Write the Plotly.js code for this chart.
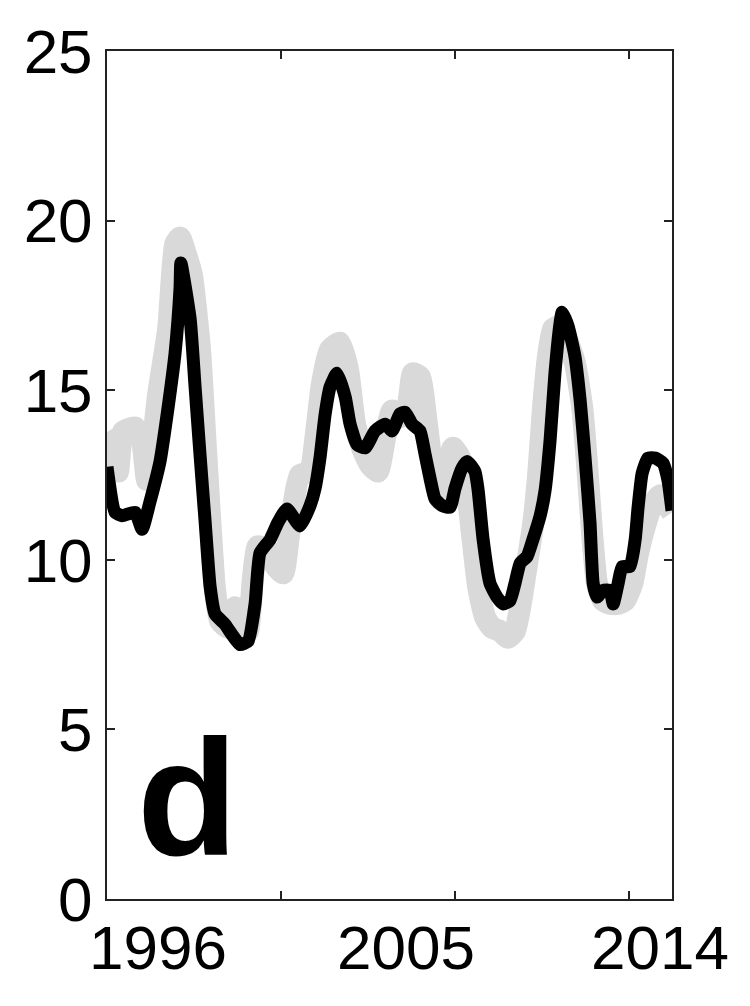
<!DOCTYPE html>
<html>
<head>
<meta charset="utf-8">
<script src="https://cdn.plot.ly/plotly-3.0.1.min.js"></script>
<style>
html,body{margin:0;padding:0;background:#fff;}
#chart{width:750px;height:1006px;}
</style>
</head>
<body>
<div id="chart"></div>
<script>
// Black series (decimal year, value)
const blackYears = [1995.00,1995.28,1995.52,1995.97,1996.21,1996.48,1996.83,1997.11,1997.35,1997.52,1997.55,1997.87,1998.04,1998.21,1998.38,1998.56,1998.73,1999.07,1999.31,1999.59,1999.87,2000.11,2000.28,2000.63,2000.90,2001.21,2001.66,2002.01,2002.18,2002.35,2002.53,2002.70,2002.94,2003.22,2003.39,2003.63,2003.91,2004.25,2004.60,2004.84,2005.11,2005.29,2005.53,2005.80,2005.98,2006.15,2006.32,2006.56,2006.84,2007.01,2007.25,2007.43,2007.70,2007.81,2007.98,2008.22,2008.46,2008.67,2008.91,2009.08,2009.26,2009.50,2009.70,2009.95,2010.12,2010.29,2010.46,2010.64,2010.71,2010.91,2011.15,2011.33,2011.50,2011.67,2011.78,2011.91,2012.12,2012.36,2012.47,2012.64,2012.78,2013.05,2013.23,2013.33,2013.47,2013.67,2013.92,2014.19,2014.36,2014.50];
const blackValues = [12.74,11.4,11.3,11.4,10.9,11.7,12.9,14.5,16.1,18.0,18.75,17.1,15.1,13.1,11.2,9.2,8.4,8.1,7.8,7.5,7.6,8.7,10.2,10.6,11.1,11.5,11.0,11.6,12.1,13.0,14.3,15.1,15.5,14.8,14.0,13.4,13.3,13.8,14.0,13.8,14.3,14.35,14.0,13.8,13.1,12.4,11.8,11.6,11.55,12.1,12.7,12.9,12.6,12.05,10.6,9.3,8.9,8.7,8.8,9.3,9.9,10.1,10.6,11.3,12.05,13.5,15.5,17.0,17.3,16.9,16.0,14.7,13.0,11.1,9.3,8.9,9.1,9.1,8.7,9.3,9.8,9.8,10.6,11.55,12.55,13.0,13.0,12.85,12.35,11.45];

// Grey series (decimal year, value)
const greyYears = [1995.00,1995.17,1995.38,1995.55,1995.97,1996.21,1996.38,1996.55,1996.76,1997.11,1997.35,1997.52,1997.69,1997.93,1998.21,1998.38,1998.56,1998.73,1998.90,1999.18,1999.42,1999.66,1999.87,2000.04,2000.21,2000.56,2000.83,2001.08,2001.32,2001.66,2002.01,2002.18,2002.42,2002.70,2003.04,2003.32,2003.56,2003.80,2004.08,2004.35,2004.60,2004.84,2005.11,2005.39,2005.56,2005.80,2006.04,2006.25,2006.49,2006.73,2006.94,2007.19,2007.43,2007.63,2007.81,2008.05,2008.29,2008.57,2008.84,2009.08,2009.26,2009.50,2009.70,2009.88,2010.05,2010.22,2010.39,2010.64,2010.87,2011.15,2011.40,2011.57,2011.74,2011.91,2012.12,2012.36,2012.64,2012.88,2013.13,2013.33,2013.57,2013.81,2014.09,2014.33,2014.50];
const greyValues = [13.77,13.5,12.6,13.77,13.9,13.5,12.35,13.2,14.85,16.8,19.3,19.5,19.1,18.4,16.2,13.8,11.2,9.1,8.2,8.0,8.6,8.4,7.9,9.5,10.4,10.3,9.8,9.6,11.0,12.5,12.6,13.5,15.2,16.2,16.4,15.6,14.0,13.3,12.8,12.6,13.6,14.4,14.2,14.6,15.5,15.4,14.0,12.6,11.8,12.6,13.3,13.0,12.0,10.5,9.2,8.3,8.0,7.9,7.7,7.9,8.6,9.9,11.0,12.5,14.5,16.0,16.8,16.9,16.5,15.8,14.5,12.8,10.8,9.3,8.8,8.7,8.7,8.8,9.3,10.2,11.0,11.6,11.9,11.6,11.4];

const yTicks = [0,5,10,15,20,25];
const xTickYears = [2001,2007,2013];
const xLabelText = ['1996','2005','2014'];
const xLabelYears = [1996.76,2005.32,2014.09];
const panelLabel = 'd';

const traces = [
  {x: greyYears, y: greyValues, type:'scatter', mode:'lines',
   line:{color:'#d9d9d9', width:22, shape:'spline', smoothing:0.5}, hoverinfo:'skip', showlegend:false},
  {x: blackYears, y: blackValues, type:'scatter', mode:'lines',
   line:{color:'#000000', width:13, shape:'spline', smoothing:0.5}, hoverinfo:'skip', showlegend:false}
];

const font = {family:'"Liberation Sans", Arial, Helvetica, sans-serif', size:62, color:'#000'};

const annotations = xLabelText.map((t,i)=>({
  text:t, xref:'x', x:xLabelYears[i], yref:'paper', y:0, yanchor:'top', xanchor:'center',
  yshift:-12, showarrow:false, font:font
}));
annotations.push({
  text:'<b>'+panelLabel+'</b>', xref:'paper', x:0.143, yref:'paper', y:0.008,
  xanchor:'center', yanchor:'bottom', showarrow:false,
  font:{family:'"Liberation Sans", Arial, Helvetica, sans-serif', size:165, color:'#000'}
});

const layout = {
  width:750, height:1006,
  margin:{l:107, r:78, t:51, b:107, pad:0},
  paper_bgcolor:'#fff', plot_bgcolor:'#fff',
  showlegend:false,
  xaxis:{range:[1995,2014.5], tickvals:xTickYears, showticklabels:false,
         ticks:'inside', ticklen:8, tickwidth:2, tickcolor:'#222',
         showline:true, linecolor:'#222', linewidth:2, mirror:'ticks',
         showgrid:false, zeroline:false, fixedrange:true},
  yaxis:{range:[0,25], tickvals:yTicks, ticks:'inside', ticklen:8, tickwidth:2, tickcolor:'#222',
         showline:true, linecolor:'#222', linewidth:2, mirror:'ticks',
         showgrid:false, zeroline:false, tickfont:font, ticklabelstandoff:0, fixedrange:true},
  annotations:annotations
};

Plotly.newPlot('chart', traces, layout, {displayModeBar:false, staticPlot:true});
</script>
</body>
</html>
